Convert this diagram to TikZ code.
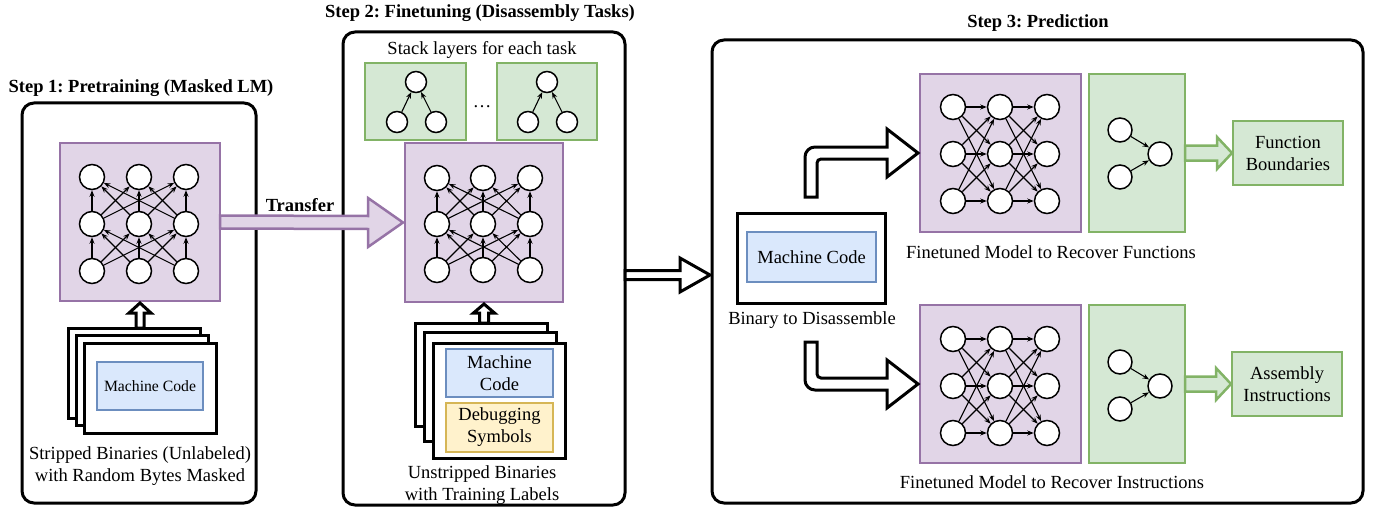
\documentclass[tikz,border=0pt]{standalone}
\usepackage{fontspec}
\setmainfont{Liberation Serif}
\usetikzlibrary{arrows.meta,calc}
\definecolor{pfill}{HTML}{E1D5E7}
\definecolor{pline}{HTML}{9673A6}
\definecolor{gfill}{HTML}{D5E8D4}
\definecolor{gline}{HTML}{82B366}
\definecolor{bfill}{HTML}{DAE8FC}
\definecolor{bline}{HTML}{6C8EBF}
\definecolor{yfill}{HTML}{FFF2CC}
\definecolor{yline}{HTML}{D6B656}
\frenchspacing
\begin{document}
\begin{tikzpicture}[x=1pt,y=-1pt,
  panel/.style={draw, line width=3pt, rounded corners=12pt, inner sep=0pt, outer sep=0pt},
  pbox/.style={draw=pline, fill=pfill, line width=2.5pt, inner sep=0pt, outer sep=0pt},
  gbox/.style={draw=gline, fill=gfill, line width=2.5pt, inner sep=0pt, outer sep=0pt},
  bbox/.style={draw=bline, fill=bfill, line width=2.5pt, inner sep=0pt, outer sep=0pt},
  ybox/.style={draw=yline, fill=yfill, line width=2.5pt, inner sep=0pt, outer sep=0pt},
  sheet/.style={draw, fill=white, line width=3pt, inner sep=0pt, outer sep=0pt},
  neuron/.style={circle, draw, fill=white, line width=1.5pt, inner sep=0pt, minimum size=25pt},
  sneuron/.style={neuron, minimum size=21pt},
  syn/.style={-{Stealth[length=6.5pt,width=5pt]}, line width=1.1pt},
  hollow/.style={draw, fill=white, line width=3pt, line join=miter},
  txt/.style={font=\fontsize{18.5}{22}\selectfont, align=center, inner sep=0pt},
  smalltxt/.style={font=\fontsize{15.7}{19}\selectfont, align=center, inner sep=0pt},
  ttl/.style={font=\bfseries\fontsize{18.5}{22}\selectfont, align=center, inner sep=0pt}
]
\useasboundingbox (0,0) rectangle (1375,508);

% ---------- titles ----------
\node[ttl] (title1) at (141,88) {Step 1: Pretraining (Masked LM)};
\node[ttl] (title2) at (480,13) {Step 2: Finetuning (Disassembly Tasks)};
\node[ttl] (title3) at (1038,23) {Step 3: Prediction};

% ---------- panels ----------
\node[panel, minimum width=234pt, minimum height=400pt] (panel1) at (139,303) {};
\node[panel, minimum width=282pt, minimum height=473pt] (panel2) at (484,268.5) {};
\node[panel, minimum width=651pt, minimum height=463pt] (panel3) at (1037.5,271.5) {};

% ---------- Step 1 ----------
\node[pbox, minimum width=160pt, minimum height=158pt] (pnet1) at (140,222) {};
\foreach \i/\x in {1/92,2/139,3/186}{
  \node[neuron] (a-t\i) at (\x,177) {};
  \node[neuron] (a-m\i) at (\x,224) {};
  \node[neuron] (a-b\i) at (\x,271) {};
}
\foreach \i in {1,2,3}{\foreach \j in {1,2,3}{
  \draw[syn] (a-b\i) -- (a-m\j);
  \draw[syn] (a-m\i) -- (a-t\j);
}}
\node[sheet, minimum width=132pt, minimum height=90pt] (s1back) at (134,373) {};
\node[sheet, minimum width=132pt, minimum height=90pt] (s1mid) at (142,380.5) {};
\node[sheet, minimum width=132pt, minimum height=90pt] (s1front) at (150,388) {};
\node[bbox, smalltxt, minimum width=106pt, minimum height=48pt] (mc1) at (150,386) {Machine Code};
\node[txt] (cap1) at (140,466) {Stripped Binaries (Unlabeled)\\with Random Bytes Masked};
\draw[hollow] ($(pnet1.south |- s1back.north)+(-4,0)$) -- ($(pnet1.south)+(-4,12)$) -- ($(pnet1.south)+(-11,12)$)
  -- ($(pnet1.south)+(0,2)$) -- ($(pnet1.south)+(11,12)$) -- ($(pnet1.south)+(4,12)$)
  -- ($(pnet1.south |- s1back.north)+(4,0)$) -- cycle;

% ---------- Step 2 ----------
\node[txt] (stacklbl) at (482,50) {Stack layers for each task};
\node[gbox, minimum width=101pt, minimum height=77pt] (task1) at (415.5,101.5) {};
\node[gbox, minimum width=100pt, minimum height=77pt] (task2) at (547,101.5) {};
\node[txt] (dots) at (482,107) {…};
\foreach \k/\x in {1/416,2/547}{
  \node[sneuron] (k\k-t) at (\x,82) {};
  \node[sneuron] (k\k-l) at (\x-19,122) {};
  \node[sneuron] (k\k-r) at (\x+20,122) {};
  \draw[syn] (k\k-l) -- (k\k-t);
  \draw[syn] (k\k-r) -- (k\k-t);
}
\node[pbox, minimum width=158pt, minimum height=159pt] (pnet2) at (484,222.5) {};
\foreach \i/\x in {1/437,2/483,3/530}{
  \node[neuron] (b-t\i) at (\x,178) {};
  \node[neuron] (b-m\i) at (\x,224) {};
  \node[neuron] (b-b\i) at (\x,270) {};
}
\foreach \i in {1,2,3}{\foreach \j in {1,2,3}{
  \draw[syn] (b-b\i) -- (b-m\j);
  \draw[syn] (b-m\i) -- (b-t\j);
}}
\node[sheet, minimum width=132pt, minimum height=103pt] (s2back) at (481,374.5) {};
\node[sheet, minimum width=132pt, minimum height=109pt] (s2mid) at (490,386.5) {};
\node[sheet, minimum width=132pt, minimum height=115pt] (s2front) at (499,400.5) {};
\node[bbox, txt, minimum width=107pt, minimum height=48pt] (mc2) at (499.5,373) {Machine\\Code};
\node[ybox, txt, minimum width=107pt, minimum height=49pt] (dbg) at (499.5,427.5) {Debugging\\Symbols};
\node[txt] (cap2) at (482,485.5) {Unstripped Binaries\\with Training Labels};
\draw[hollow] ($(pnet2.south |- s2back.north)+(-4.5,0)$) -- ($(pnet2.south)+(-4.5,11)$) -- ($(pnet2.south)+(-10.5,11)$)
  -- ($(pnet2.south)+(0,2)$) -- ($(pnet2.south)+(10.5,11)$) -- ($(pnet2.south)+(4.5,11)$)
  -- ($(pnet2.south |- s2back.north)+(4.5,0)$) -- cycle;

% ---------- Transfer arrow ----------
\draw[draw=pline, fill=pfill, line width=2.5pt, line join=miter]
  ($(pnet1.east)+(0,-6.5)$) -- ($(pnet2.west)+(-37,-6.5)$) -- ($(pnet2.west)+(-37,-24.5)$)
  -- ($(pnet2.west)+(-2,0)$) -- ($(pnet2.west)+(-37,24.5)$) -- ($(pnet2.west)+(-37,6.5)$)
  -- ($(pnet1.east)+(0,6.5)$) -- cycle;
\node[ttl] (transfer) at (300,205) {Transfer};

% ---------- arrow between panels ----------
\coordinate (mid) at (668,275);
\draw[hollow] ($(panel2.east |- mid)+(0,-4.5)$) -- ($(panel3.west |- mid)+(-32,-4.5)$) -- ($(panel3.west |- mid)+(-32,-17)$)
  -- ($(panel3.west |- mid)+(-2,0)$) -- ($(panel3.west |- mid)+(-32,17)$) -- ($(panel3.west |- mid)+(-32,4.5)$)
  -- ($(panel2.east |- mid)+(0,4.5)$) -- cycle;

% ---------- Step 3 ----------
\node[sheet, minimum width=148pt, minimum height=90pt] (bin) at (811,258) {};
\node[bbox, txt, minimum width=129pt, minimum height=50pt] (mc3) at (811.5,257) {Machine Code};
\node[txt] (bincap) at (812,320) {Binary to Disassemble};

\node[pbox, minimum width=161pt, minimum height=158pt] (pnetA) at (1000.5,153) {};
\node[pbox, minimum width=161pt, minimum height=158pt] (pnetB) at (1000.5,384) {};
\node[gbox, minimum width=96pt, minimum height=158pt] (gA) at (1137,153) {};
\node[gbox, minimum width=96pt, minimum height=158pt] (gB) at (1137,384) {};
\foreach \n/\y in {A/154,B/386}{
  \foreach \i/\dy in {1/-47,2/0,3/47}{
    \node[neuron] (\n-l\i) at (953,\y+\dy) {};
    \node[neuron] (\n-c\i) at (1000,\y+\dy) {};
    \node[neuron] (\n-r\i) at (1047,\y+\dy) {};
  }
  \foreach \i in {1,2,3}{\foreach \j in {1,2,3}{
    \draw[syn] (\n-l\i) -- (\n-c\j);
    \draw[syn] (\n-c\i) -- (\n-r\j);
  }}
  \node[neuron, minimum size=24pt] (\n-gt) at (1120,\y-24) {};
  \node[neuron, minimum size=24pt] (\n-gb) at (1120,\y+23) {};
  \node[neuron, minimum size=24pt] (\n-go) at (1160,\y) {};
  \draw[syn] (\n-gt) -- (\n-go);
  \draw[syn] (\n-gb) -- (\n-go);
}
\node[gbox, txt, minimum width=110pt, minimum height=64pt] (fb) at (1288,153) {Function\\Boundaries};
\node[gbox, txt, minimum width=110pt, minimum height=64pt] (ai) at (1287,384) {Assembly\\Instructions};
\node[txt] (capA) at (1051,252) {Finetuned Model to Recover Functions};
\node[txt] (capB) at (1052,482) {Finetuned Model to Recover Instructions};

% green arrows
\draw[draw=gline, fill=gfill, line width=2.5pt, line join=miter]
  ($(gA.east)+(0,-7.5)$) -- ($(fb.west)+(-16,-7.5)$) -- ($(fb.west)+(-16,-16)$) -- ($(fb.west)+(-1,0)$)
  -- ($(fb.west)+(-16,16)$) -- ($(fb.west)+(-16,7.5)$) -- ($(gA.east)+(0,7.5)$) -- cycle;
\draw[draw=gline, fill=gfill, line width=2.5pt, line join=miter]
  ($(gB.east)+(0,-7.5)$) -- ($(ai.west)+(-16,-7.5)$) -- ($(ai.west)+(-16,-16)$) -- ($(ai.west)+(-1,0)$)
  -- ($(ai.west)+(-16,16)$) -- ($(ai.west)+(-16,7.5)$) -- ($(gB.east)+(0,7.5)$) -- cycle;

% bent arrows
\coordinate (sA) at ($(bin.north)+(0,-16)$);
\coordinate (sB) at ($(bin.south)+(0,39)$);
\draw[hollow] ($(sA)+(-6,0)$) [rounded corners=10pt] -- ($(sA |- pnetA.west)+(-6,-6)$) [sharp corners]
  -- ($(pnetA.west)+(-33,-6)$) -- ($(pnetA.west)+(-33,-24)$) -- ($(pnetA.west)+(-2,0)$)
  -- ($(pnetA.west)+(-33,24)$) -- ($(pnetA.west)+(-33,6)$) [rounded corners=4pt]
  -- ($(sA |- pnetA.west)+(6,6)$) [sharp corners] -- ($(sA)+(6,0)$) -- cycle;
\draw[hollow] ($(sB)+(-6,0)$) [rounded corners=10pt] -- ($(sB |- pnetB.west)+(-6,6)$) [sharp corners]
  -- ($(pnetB.west)+(-33,6)$) -- ($(pnetB.west)+(-33,24)$) -- ($(pnetB.west)+(-2,0)$)
  -- ($(pnetB.west)+(-33,-24)$) -- ($(pnetB.west)+(-33,-6)$) [rounded corners=4pt]
  -- ($(sB |- pnetB.west)+(6,-6)$) [sharp corners] -- ($(sB)+(6,0)$) -- cycle;
\end{tikzpicture}
\end{document}
